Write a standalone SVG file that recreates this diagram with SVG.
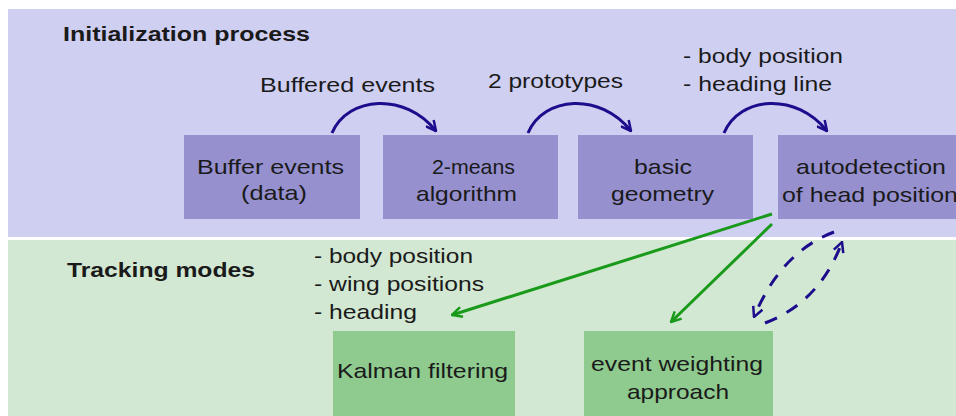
<svg xmlns="http://www.w3.org/2000/svg" width="956" height="416" viewBox="0 0 956 416">
<style>
text{font-family:"Liberation Sans",Arial,sans-serif;font-size:21px;fill:#1a1a1a}
.h{font-weight:bold}
.pbox{fill:#9690cf}
.gbox{fill:#8fca8f}
.blue{fill:none;stroke:#1d0d8c;stroke-width:3}
.dash{fill:none;stroke:#1d0d8c;stroke-width:3;stroke-dasharray:13 11}
.green{fill:none;stroke:#1a9a1a;stroke-width:3}
</style>
<defs>
<marker id="ab" viewBox="0 0 12 12" refX="11" refY="6" markerWidth="12" markerHeight="12" markerUnits="userSpaceOnUse" orient="auto">
<polyline points="1,1 11,6 1,11" fill="none" stroke="#1d0d8c" stroke-width="2.5"/>
</marker>
<marker id="ag" viewBox="0 0 12 12" refX="11" refY="6" markerWidth="12" markerHeight="12" markerUnits="userSpaceOnUse" orient="auto">
<polyline points="1,1 11,6 1,11" fill="none" stroke="#1a9a1a" stroke-width="2.5"/>
</marker>
</defs>
<rect x="0" y="0" width="956" height="416" fill="#ffffff"/>
<g id="init-band">
<rect x="8" y="9" width="948" height="228" fill="#cfcff2"/>
<text class="h" x="63" y="41" textLength="247" lengthAdjust="spacingAndGlyphs">Initialization process</text>
</g>
<g id="tracking-band">
<rect x="8" y="240" width="948" height="176" fill="#d2e8d2"/>
<text class="h" x="67" y="277" textLength="188" lengthAdjust="spacingAndGlyphs">Tracking modes</text>
</g>
<g id="buffer">
<rect class="pbox" x="184" y="135" width="176" height="84"/>
<text x="197" y="174" textLength="147" lengthAdjust="spacingAndGlyphs">Buffer events</text>
<text x="241" y="200" textLength="66" lengthAdjust="spacingAndGlyphs">(data)</text>
</g>
<g id="twomeans">
<rect class="pbox" x="383" y="135" width="175" height="84"/>
<text x="432" y="174" textLength="83" lengthAdjust="spacingAndGlyphs">2-means</text>
<text x="416" y="201" textLength="101" lengthAdjust="spacingAndGlyphs">algorithm</text>
</g>
<g id="geometry">
<rect class="pbox" x="578" y="135" width="175" height="84"/>
<text x="634" y="174" textLength="58" lengthAdjust="spacingAndGlyphs">basic</text>
<text x="611" y="201" textLength="103" lengthAdjust="spacingAndGlyphs">geometry</text>
</g>
<g id="autodetect">
<rect class="pbox" x="778" y="135" width="178" height="84"/>
<text x="796" y="174" textLength="150" lengthAdjust="spacingAndGlyphs">autodetection</text>
<text x="782" y="202" textLength="176" lengthAdjust="spacingAndGlyphs">of head position</text>
</g>
<g id="kalman">
<rect class="gbox" x="333" y="331" width="182" height="85"/>
<text x="337" y="378" textLength="171" lengthAdjust="spacingAndGlyphs">Kalman filtering</text>
</g>
<g id="weighting">
<rect class="gbox" x="584" y="331" width="189" height="85"/>
<text x="591" y="371" textLength="172" lengthAdjust="spacingAndGlyphs">event weighting</text>
<text x="627" y="399" textLength="102" lengthAdjust="spacingAndGlyphs">approach</text>
</g>
<g id="connectors">
<path class="blue" d="M332,133 C348,96 405,92 436,131" marker-end="url(#ab)"/>
<path class="blue" d="M528,133 C544,96 600,92 631,131" marker-end="url(#ab)"/>
<path class="blue" d="M724,133 C740,96 796,92 827,131" marker-end="url(#ab)"/>
<path class="green" d="M772,214 L452,315" marker-end="url(#ag)"/>
<path class="green" d="M772,224 L671,322" marker-end="url(#ag)"/>
<path class="dash" d="M834,232 Q781,252 754,317" marker-end="url(#ab)"/>
<path class="dash" d="M765,323 Q820,302 842,242" marker-end="url(#ab)"/>
</g>
<g id="labels">
<text x="260" y="92" textLength="175" lengthAdjust="spacingAndGlyphs">Buffered events</text>
<text x="488" y="88" textLength="135" lengthAdjust="spacingAndGlyphs">2 prototypes</text>
<text x="683" y="63" textLength="160" lengthAdjust="spacingAndGlyphs">- body position</text>
<text x="683" y="91" textLength="149" lengthAdjust="spacingAndGlyphs">- heading line</text>
<text x="314" y="263" textLength="159" lengthAdjust="spacingAndGlyphs">- body position</text>
<text x="314" y="291" textLength="170" lengthAdjust="spacingAndGlyphs">- wing positions</text>
<text x="314" y="319" textLength="103" lengthAdjust="spacingAndGlyphs">- heading</text>
</g>
</svg>
